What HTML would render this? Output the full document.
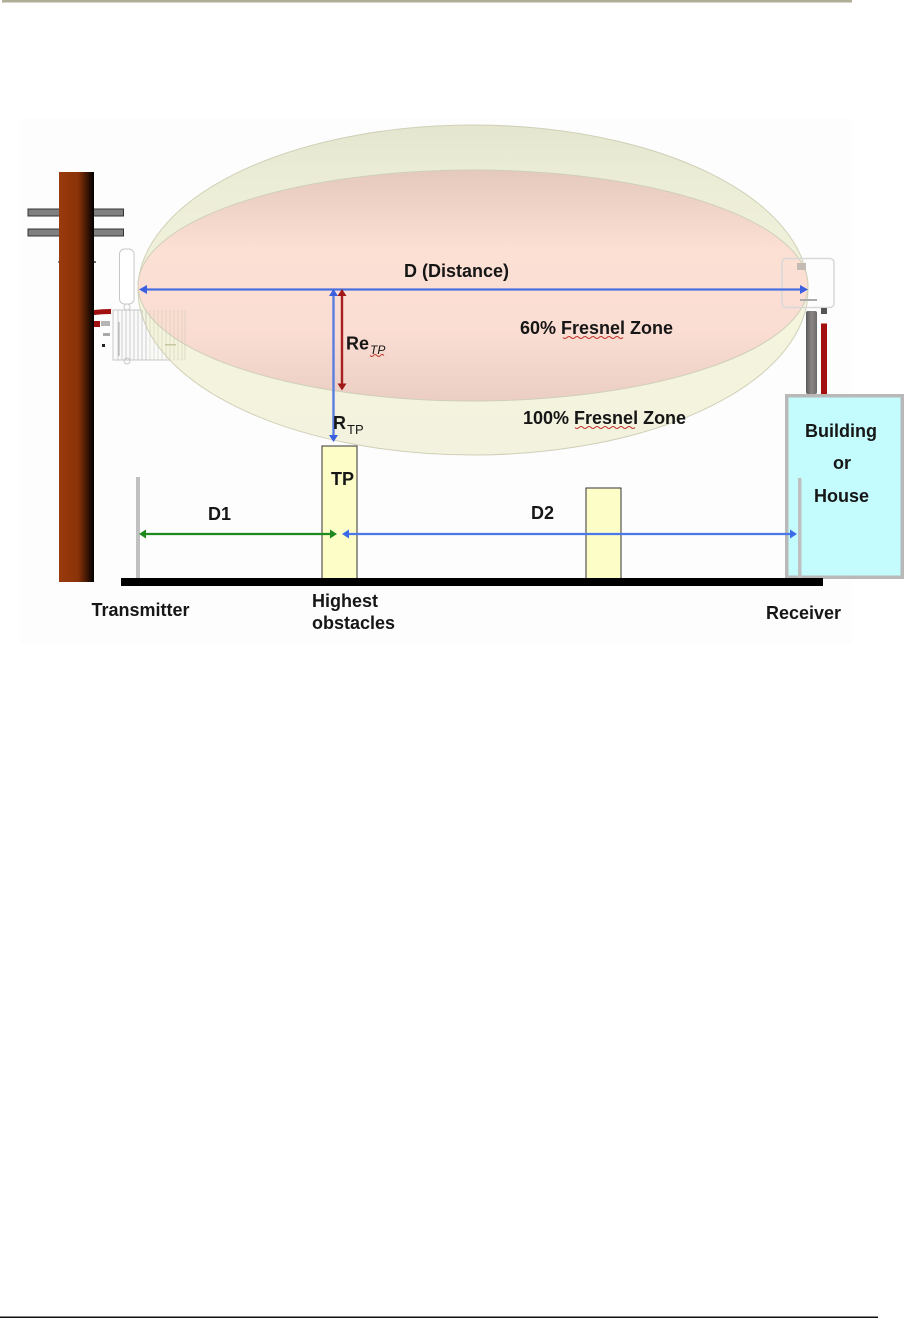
<!DOCTYPE html>
<html>
<head>
<meta charset="utf-8">
<style>
html,body{margin:0;padding:0;background:#fff}
svg{display:block}
text{font-family:"Liberation Sans",sans-serif;font-weight:bold;fill:#161616;font-size:18px}
</style>
</head>
<body>
<svg width="921" height="1318" viewBox="0 0 921 1318" xmlns="http://www.w3.org/2000/svg">
<defs>
<linearGradient id="pole" x1="0" x2="1" y1="0" y2="0">
<stop offset="0" stop-color="#993a0c"/>
<stop offset="0.55" stop-color="#8a3208"/>
<stop offset="1" stop-color="#000"/>
</linearGradient>
<linearGradient id="gp" x1="0" x2="1" y1="0" y2="0">
<stop offset="0" stop-color="#5a5a5a"/>
<stop offset="0.5" stop-color="#8c8686"/>
<stop offset="1" stop-color="#6a6a6a"/>
</linearGradient>
<linearGradient id="outer" x1="0" x2="0" y1="0" y2="1">
<stop offset="0" stop-color="#e1e2c8"/>
<stop offset="0.15" stop-color="#e9ead0"/>
<stop offset="0.6" stop-color="#f4f4da"/>
<stop offset="1" stop-color="#f0f0da"/>
</linearGradient>
<linearGradient id="inner" x1="0" x2="0" y1="0" y2="1">
<stop offset="0" stop-color="#e5c7bb"/>
<stop offset="0.35" stop-color="#fddfd4"/>
<stop offset="0.7" stop-color="#fbdcd2"/>
<stop offset="1" stop-color="#ebccc2"/>
</linearGradient>
</defs>
<rect width="921" height="1318" fill="#fff"/>
<rect x="20" y="118" width="832" height="526" fill="#fdfdfd"/>
<rect x="2" y="0" width="850" height="2.500" fill="#b0ae96"/>
<rect x="0" y="1316.500" width="878" height="1.500" fill="#111"/>

<!-- crossarms -->
<rect x="28" y="209" width="95.500" height="7" fill="#808080" stroke="#333" stroke-width="1"/>
<rect x="28" y="229" width="95.500" height="7" fill="#808080" stroke="#333" stroke-width="1"/>
<circle cx="59" cy="262" r="1" fill="#666"/>
<circle cx="95" cy="262" r="1" fill="#444"/>
<!-- pole -->
<rect x="59" y="172" width="35" height="410" fill="url(#pole)"/>

<!-- transmitter device -->
<g fill="none" stroke="#c8c8c8" stroke-width="1">
<rect x="119.500" y="249" width="14.500" height="55" rx="5" fill="#fff"/>
<circle cx="127" cy="307" r="3"/>
<rect x="113" y="310" width="72" height="50" fill="#fafafa"/>
<circle cx="127" cy="361" r="3"/>
</g>
<path d="M94 310 q8 -1 17 -1 v5 q-9 0 -17 1z" fill="#a01010"/>
<rect x="94" y="321" width="6" height="6" fill="#a01010"/>
<rect x="101" y="321" width="9" height="5" fill="#b5b5b5"/>
<rect x="103" y="333" width="7" height="3" fill="#aaa"/>
<rect x="102" y="344" width="3" height="3" fill="#222"/>

<!-- Fresnel zones -->
<ellipse cx="473" cy="290" rx="335" ry="165" fill="url(#outer)" fill-opacity="0.88" stroke="#d0d0b8" stroke-width="1"/>
<ellipse cx="473" cy="285.500" rx="335" ry="115.500" fill="url(#inner)" fill-opacity="0.95" stroke="#cfcfb8" stroke-width="1"/>

<!-- device fins showing through the zones -->
<g fill="none" stroke="#bdbdbd" stroke-width="1" opacity="0.75">
<path d="M118 310v50M122 310v50M126 310v50M130 310v50M134 310v50M138 310v50M142 310v50M146 310v50"/>
</g>
<g fill="none" stroke="#c4c4a8" stroke-width="1" opacity="0.45">
<path d="M150 310v50M154 310v50M158 310v50M162 310v50M166 310v50M170 310v50M174 310v50M178 310v50M182 310v50M185 310v50"/>
</g>
<path d="M119 322v34" stroke="#aaa" stroke-width="1" fill="none"/>
<rect x="165" y="344" width="11" height="1.500" fill="#c8c8a0"/>

<!-- receiver device -->
<rect x="782" y="258.500" width="52" height="49" rx="4" fill="none" stroke="#d8d8d8" stroke-width="1.500"/>
<rect x="797" y="263" width="9" height="7" fill="#c4bcb4"/>
<rect x="800" y="299" width="17" height="2" fill="#aaa"/>
<rect x="821" y="308" width="6" height="6" fill="#555"/>
<rect x="806" y="311" width="11" height="83" rx="2" fill="url(#gp)"/>
<rect x="821" y="323.500" width="6" height="74.500" fill="#a31010"/>

<!-- building -->
<rect x="786.750" y="395.750" width="115.500" height="181.500" fill="#c4fcfd" stroke="#b9b9b9" stroke-width="3.500"/>

<!-- obstacles -->
<rect x="322" y="446" width="35" height="134" fill="#fdfdc8" stroke="#333" stroke-width="1"/>
<rect x="586" y="488" width="35" height="92" fill="#fdfdc8" stroke="#333" stroke-width="1"/>

<!-- ground and verticals -->
<rect x="136" y="477" width="4" height="102" fill="#c0c0c0"/>
<rect x="798" y="478" width="3.500" height="101" fill="#c0c0c0"/>
<rect x="121" y="578" width="702" height="8" fill="#000"/>

<!-- D arrow -->
<line x1="146" y1="289.500" x2="800" y2="289.500" stroke="#4a6fe0" stroke-width="2.200"/>
<path d="M139 289.500l8-4.500v9z" fill="#3a5fe0"/>
<path d="M808 289.500l-8-4.500v9z" fill="#3a5fe0"/>
<!-- R arrow -->
<line x1="333.500" y1="292" x2="333.500" y2="436" stroke="#5a7de0" stroke-width="2.400"/>
<path d="M333.500 289l-4.500 7h9z" fill="#3a5fe0"/>
<path d="M333.500 442l-4.500-7h9z" fill="#3a5fe0"/>
<!-- Re arrow -->
<line x1="342" y1="292" x2="342" y2="385" stroke="#a52020" stroke-width="2.400"/>
<path d="M342 289l-4.500 7h9z" fill="#a01818"/>
<path d="M342 390.500l-4.500-7h9z" fill="#a01818"/>
<!-- D1 -->
<line x1="144" y1="534" x2="332" y2="534" stroke="#1e8a1e" stroke-width="2.200"/>
<path d="M139 534l7-4.500v9z" fill="#1e8a1e"/>
<path d="M337 534l-7-4.500v9z" fill="#1e8a1e"/>
<!-- D2 -->
<line x1="348" y1="534" x2="792" y2="534" stroke="#4a78e8" stroke-width="2.200"/>
<path d="M342 534l7-4.500v9z" fill="#3a6ae8"/>
<path d="M797 534l-7-4.500v9z" fill="#3a6ae8"/>

<!-- labels -->
<text x="404" y="277">D (Distance)</text>
<text x="520" y="334">60% Fresnel Zone</text>
<text x="523" y="424">100% Fresnel Zone</text>
<path d="M563 337.500q2 2 4 0t4 0 4 0 4 0 4 0 4 0 4 0 4 0 4 0 4 0 4 0 4 0 4 0 4 0 4 0M575 427.500q2 2 4 0t4 0 4 0 4 0 4 0 4 0 4 0 4 0 4 0 4 0 4 0 4 0 4 0 4 0 4 0" fill="none" stroke="#c0392b" stroke-width="1"/>
<text x="346" y="349.500">Re</text>
<text x="370" y="354" style="font-size:12px;font-style:italic;font-weight:normal">TP</text>
<path d="M370 355.500q2 2 3.500 0t3.500 0 3.500 0 3.500 0" fill="none" stroke="#c0392b" stroke-width="1"/>
<text x="333" y="429">R</text>
<text x="347" y="434" style="font-size:13px;font-weight:normal">TP</text>
<text x="331" y="485">TP</text>
<text x="208" y="520">D1</text>
<text x="531" y="519">D2</text>
<text x="805" y="437">Building</text>
<text x="833" y="469">or</text>
<text x="814" y="502">House</text>
<text x="91.500" y="616">Transmitter</text>
<text x="312" y="607">Highest</text>
<text x="312" y="629">obstacles</text>
<text x="766" y="619">Receiver</text>
</svg>
</body>
</html>
